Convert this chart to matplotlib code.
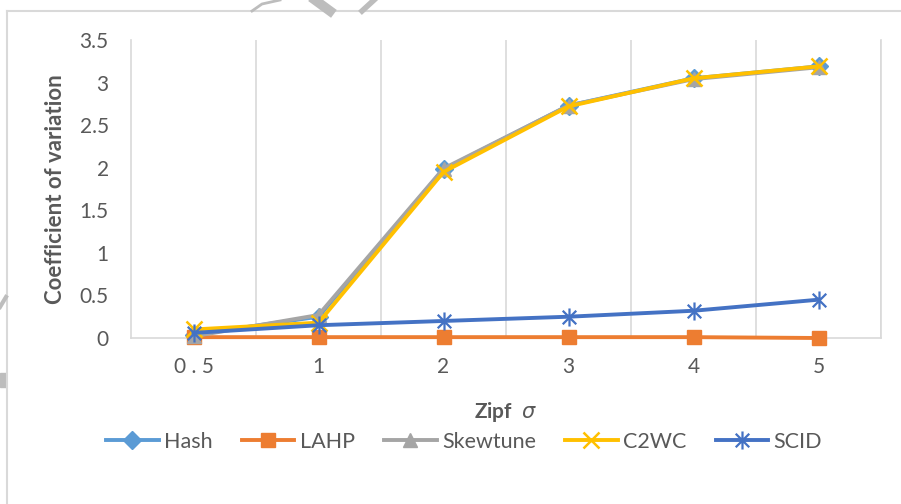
import matplotlib
matplotlib.use("Agg")
import matplotlib.pyplot as plt
from matplotlib.path import Path
from matplotlib.lines import Line2D
import matplotlib.patches as mpatches

categories = ["0 . 5", "1", "2", "3", "4", "5"]
hash_vals = [0.04, 0.25, 1.98, 2.73, 3.05, 3.19]
lahp_vals = [0.01, 0.01, 0.01, 0.01, 0.01, 0.0]
skewtune_vals = [0.02, 0.27, 1.99, 2.73, 3.04, 3.18]
c2wc_vals = [0.10, 0.18, 1.95, 2.72, 3.05, 3.19]
scid_vals = [0.06, 0.15, 0.20, 0.25, 0.32, 0.45]
y_ticks = [0, 0.5, 1, 1.5, 2, 2.5, 3, 3.5]
y_tick_labels = ["0", "0.5", "1", "1.5", "2", "2.5", "3", "3.5"]

plt.rcParams['font.family'] = ['Lato', 'DejaVu Sans']
TXT = '#595959'
GRID = '#D9D9D9'

W, H = 901, 504
fig = plt.figure(figsize=(W / 100, H / 100), dpi=100)
ax = fig.add_axes([131 / W, 1 - 338 / H, (881 - 131) / W, (338 - 40) / H])

aster = Path([(0, -1), (0, 1), (-0.75, -0.75), (0.75, 0.75), (-0.75, 0.75), (0.75, -0.75)],
             [Path.MOVETO, Path.LINETO, Path.MOVETO, Path.LINETO, Path.MOVETO, Path.LINETO])

x = list(range(len(categories)))
series = [
    ("Hash", hash_vals, '#5B9BD5', 'D', 9, 1.0),
    ("LAHP", lahp_vals, '#ED7D31', 's', 10, 1.0),
    ("Skewtune", skewtune_vals, '#A5A5A5', '^', 10, 1.0),
    ("C2WC", c2wc_vals, '#FFC000', 'x', 11, 1.8),
    ("SCID", scid_vals, '#4472C4', aster, 13, 1.6),
]
for name, vals, col, mk, ms, mew in series:
    ax.plot(x, vals, color=col, lw=2.8, marker=mk, markersize=ms,
            markerfacecolor=col, markeredgecolor=col, markeredgewidth=mew,
            label=name, solid_joinstyle='round', clip_on=False)

ax.set_xlim(-0.5, len(categories) - 0.5)
ax.set_ylim(0, 3.5)
ax.set_xticks(x)
ax.set_xticklabels(categories)
ax.set_yticks(y_ticks)
ax.set_yticklabels(y_tick_labels)
ax.tick_params(axis='both', length=0, labelsize=15, labelcolor=TXT)
ax.tick_params(axis='x', pad=14)
ax.tick_params(axis='y', pad=16)

for xb in [i + 0.5 for i in range(len(categories))]:
    ax.axvline(xb, color=GRID, lw=1.2, zorder=0)
ax.spines['top'].set_visible(False)
for s in ['left', 'right', 'bottom']:
    ax.spines[s].set_color(GRID)
    ax.spines[s].set_linewidth(1.2)
    ax.spines[s].set_zorder(0)

ax.set_ylabel("Coefficient of variation", fontsize=16, fontweight='bold', color=TXT, labelpad=10)
ax.set_xlabel(r"Zipf  $\sigma$", fontsize=15, fontweight='bold', color=TXT, labelpad=16)

fig.legend(loc='center', bbox_to_anchor=(464 / W, 1 - 442 / H), ncol=5, frameon=False,
           fontsize=15.5, labelcolor=TXT, handlelength=2.45, handletextpad=0.25,
           columnspacing=1.35)

# chart frame
fig.add_artist(Line2D([7 / W, 7 / W], [0, 1 - 11 / H], color=GRID, lw=1.5))
fig.add_artist(Line2D([7 / W, 1], [1 - 11 / H, 1 - 11 / H], color=GRID, lw=1.5))

# watermark fragments
wm = '#BDBDBD'
fig.add_artist(Line2D([252 / W, 262 / W, 280 / W], [1 - 11 / H, 1 - 4 / H, 1 - 0 / H], color=wm, lw=2))
fig.add_artist(Line2D([315 / W, 330 / W], [1 - 0 / H, 1 - 11 / H], color=wm, lw=7))
fig.add_artist(Line2D([362 / W, 374 / W], [1 - 11 / H, 1 - 0 / H], color=wm, lw=4))
fig.add_artist(mpatches.Rectangle((0, 1 - 387 / H), 6 / W, 14 / H, color=wm, transform=fig.transFigure))
fig.add_artist(Line2D([0, 6 / W], [1 - 307 / H, 1 - 297 / H], color=wm, lw=3))

fig.savefig("out.png", dpi=100)
